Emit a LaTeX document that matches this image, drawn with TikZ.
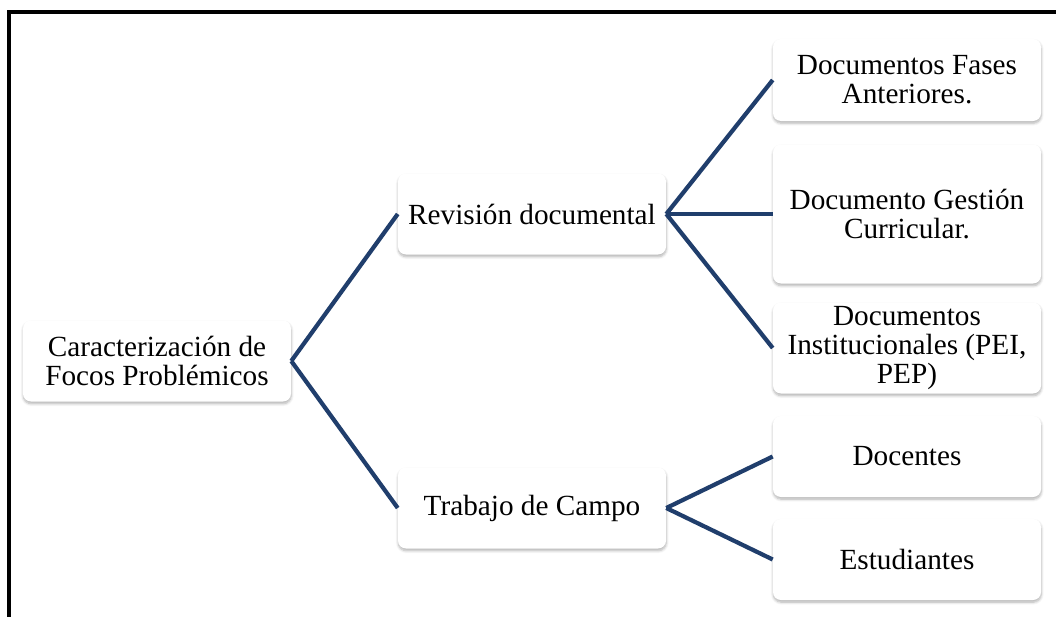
\documentclass[tikz,border=0pt]{standalone}
\usepackage{fontspec}
\setmainfont{Liberation Serif}
\usetikzlibrary{shadows.blur}
\definecolor{linkblue}{HTML}{203E6C}
\tikzset{
  box/.style={fill=white,rounded corners=0.2cm,minimum width=6.7cm,minimum height=2.025cm,
    align=center,inner sep=2pt,font=\fontsize{20.8}{20.6}\selectfont,
    blur shadow={shadow xshift=0.2pt,shadow yshift=-1.6pt,shadow blur steps=6,shadow opacity=30}},
  link/.style={draw=linkblue,line width=3pt}
}

\begin{document}
\begin{tikzpicture}[grow'=right,level distance=9.375cm,every node/.style={box},edge from parent/.style={link},edge from parent path={(\tikzparentnode.east) -- (\tikzchildnode.west)},level 1/.style={sibling distance=7.35cm},level 2/.style={sibling distance=3.35cm}]
  \useasboundingbox (-3.925,-6.375) rectangle (22.475,9.025);
  \draw[line width=2.6pt] (-3.7,-6.5) -- (-3.7,8.725) -- (22.6,8.725);
  \node (foco) {Caracterización de\\Focos Problémicos}
    child {node (revision) {Revisión documental}
      child {node (fases) [minimum height=2.05cm] {Documentos Fases\\Anteriores.}}
      child {node (gestion) [minimum height=3.475cm] {Documento Gestión\\Curricular.}}
      child {node (pei) [minimum height=2.275cm] {Documentos\\Institucionales (PEI,\\PEP)}}
    }
    child {node (campo) {Trabajo de Campo}
      child[sibling distance=2.575cm] {node (docentes) {Docentes}}
      child[sibling distance=2.575cm] {node (estudiantes) {Estudiantes}}
    };
\end{tikzpicture}
\end{document}
